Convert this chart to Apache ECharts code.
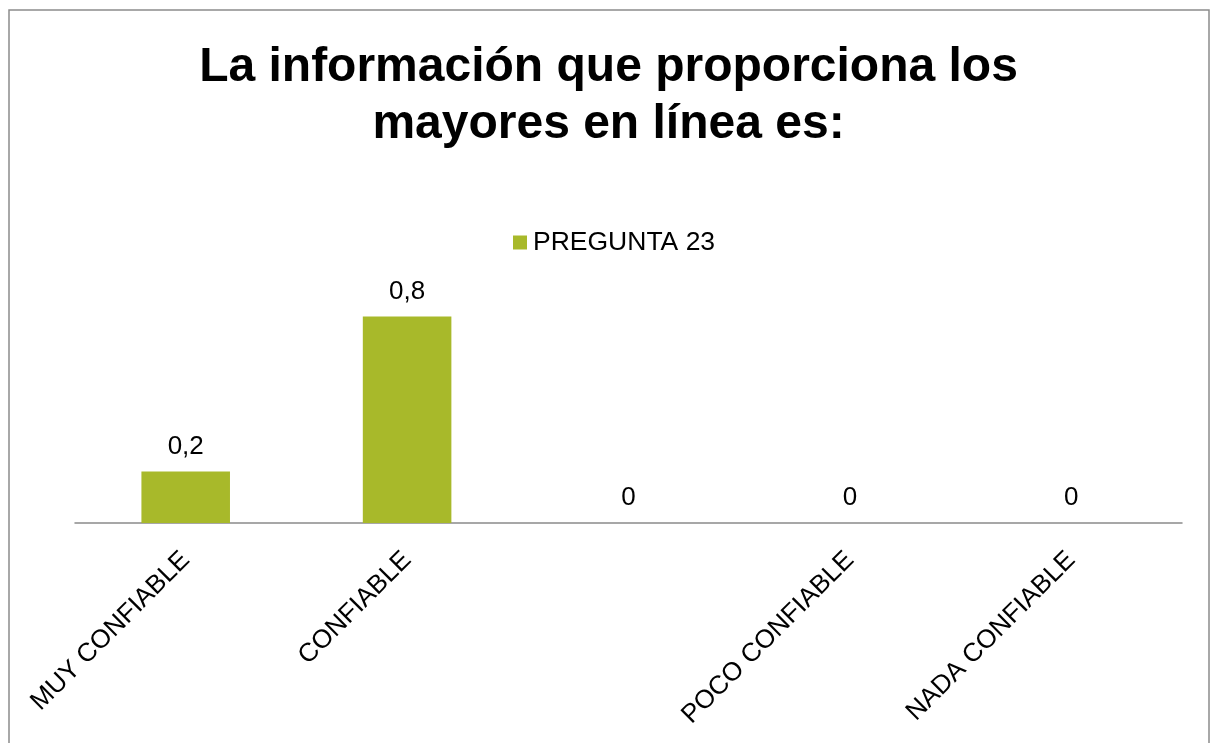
<!DOCTYPE html>
<html>
<head>
<meta charset="utf-8">
<title>PREGUNTA 23</title>
<script src="https://cdn.jsdelivr.net/npm/echarts@6/dist/echarts.min.js"></script>
<style>
    html, body { margin: 0; padding: 0; background: #fff; }
    #chart { width: 1217px; height: 743px; }
</style>
</head>
<body>
<div id="chart"></div>
<script>
    // datos
    var categories = ['MUY CONFIABLE', 'CONFIABLE', '', 'POCO CONFIABLE', 'NADA CONFIABLE'];
    var pregunta23 = [0.2, 0.8, 0, 0, 0];
    var seriesName = 'PREGUNTA 23';
    var titleText = 'La información que proporciona los\nmayores en línea es:';

    var font = '"Liberation Sans", Arial, sans-serif';
    var chart = echarts.init(document.getElementById('chart'));

    chart.setOption({
        animation: false,
        graphic: [{
            type: 'rect',
            shape: { x: 9, y: 10, width: 1200, height: 800 },
            style: { fill: 'none', stroke: '#8c8c8c', lineWidth: 1.5 },
            silent: true
        }],
        title: {
            text: titleText,
            left: 'center',
            top: 34,
            textStyle: {
                fontFamily: font,
                fontSize: 48,
                fontWeight: 'bold',
                color: '#000',
                lineHeight: 57
            }
        },
        legend: {
            data: [seriesName],
            left: 513,
            top: 229,
            padding: 0,
            itemWidth: 14,
            itemHeight: 14,
            icon: 'rect',
            textStyle: {
                fontFamily: font,
                fontSize: 26.5,
                color: '#000',
                padding: [0, 0, 0, 1]
            }
        },
        grid: {
            left: 75,
            right: 35,
            top: 265,
            bottom: 220
        },
        xAxis: {
            type: 'category',
            data: categories,
            axisTick: { show: false },
            axisLine: {
                lineStyle: { color: '#8a8a8a', width: 1.5 }
            },
            axisLabel: {
                interval: 0,
                rotate: 45,
                margin: 33,
                fontFamily: font,
                fontSize: 26,
                color: '#000'
            }
        },
        yAxis: {
            type: 'value',
            min: 0,
            max: 1,
            show: false,
            splitLine: { show: false }
        },
        series: [{
            name: seriesName,
            type: 'bar',
            data: pregunta23,
            barCategoryGap: '60%',
            itemStyle: { color: '#A8B92A' },
            label: {
                show: true,
                position: 'top',
                distance: 12,
                fontFamily: font,
                fontSize: 26,
                color: '#000',
                formatter: function (p) {
                    return String(p.value).replace('.', ',');
                }
            }
        }]
    });
</script>
</body>
</html>
